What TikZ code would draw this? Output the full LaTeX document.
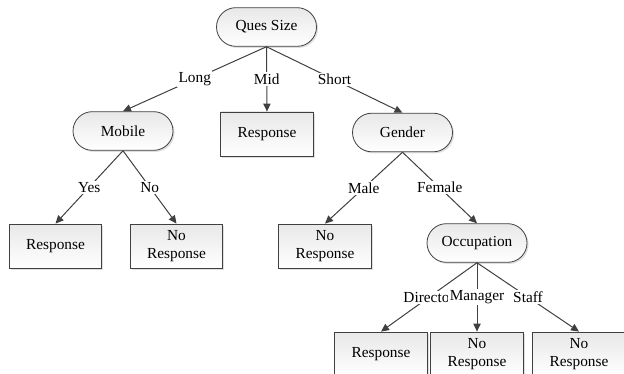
\documentclass[tikz,border=0pt]{standalone}
\usepackage{fontspec}
\setmainfont{Liberation Serif}
\usetikzlibrary{arrows.meta,shadows}
\definecolor{Ink}{HTML}{404040}
\definecolor{BoxTop}{HTML}{E8E8E8}

\tikzset{
  pill/.style={rectangle,rounded corners=14.5pt,minimum width=75pt,minimum height=29pt,
    draw=Ink,line width=0.6pt,top color=BoxTop,bottom color=white,
    drop shadow={opacity=0.25,shadow xshift=1.2pt,shadow yshift=-1.2pt},
    font=\fontsize{11.5}{13.5}\selectfont},
  leaf/.style={rectangle,minimum width=69.5pt,minimum height=33pt,inner sep=1pt,
    draw=Ink,line width=0.6pt,top color=BoxTop,bottom color=white,align=center,
    drop shadow={opacity=0.25,shadow xshift=1.2pt,shadow yshift=-1.2pt},
    font=\fontsize{11.5}{13.5}\selectfont},
  branch/.style={Ink,line width=0.75pt,-{Triangle[length=6pt,width=5.5pt]}},
  cond/.style={midway,fill=white,inner sep=1pt,text=black,font=\fontsize{11.5}{13.5}\selectfont}
}

\begin{document}
\begin{tikzpicture}[x=0.75pt,y=-0.75pt]
\useasboundingbox (0,0) rectangle (624,374);
% decision nodes
\node[pill] (ques) at (266.5,27) {Ques Size};
\node[pill] (mobile) at (123,131) {Mobile};
\node[pill] (gender) at (402.5,132.5) {Gender};
\node[pill] (occup) at (477,243) {Occupation};
% leaves
\node[leaf] (midresp) at (267,134) {Response};
\node[leaf] (yesresp) at (55.5,246) {Response};
\node[leaf] (nonresp) at (176.5,246) {No\\Response};
\node[leaf] (malenoresp) at (325,246) {No\\Response};
\node[leaf] (dirresp) at (381,354) {Response};
\node[leaf] (mannoresp) at (477,354) {No\\Response};
\node[leaf] (staffnoresp) at (579,354) {No\\Response};
% branches
\draw[branch] (ques.south) -- node[cond] {Long} (mobile.north);
\draw[branch] (ques.south) -- node[cond] {Mid} (midresp.north);
\draw[branch] (ques.south) -- node[cond] {Short} (gender.north);
\draw[branch] (mobile.south) -- node[cond] {Yes} (yesresp.north);
\draw[branch] (mobile.south) -- node[cond] {No} (nonresp.north);
\draw[branch] (gender.south) -- node[cond] {Male} (malenoresp.north);
\draw[branch] (gender.south) -- node[cond] {Female} (occup.north);
\draw[branch] (occup.south) -- node[cond] {Director} (dirresp.north);
\draw[branch] (occup.south) -- node[cond] {Manager} (mannoresp.north);
\draw[branch] (occup.south) -- node[cond] {Staff} (staffnoresp.north);
\end{tikzpicture}
\end{document}
